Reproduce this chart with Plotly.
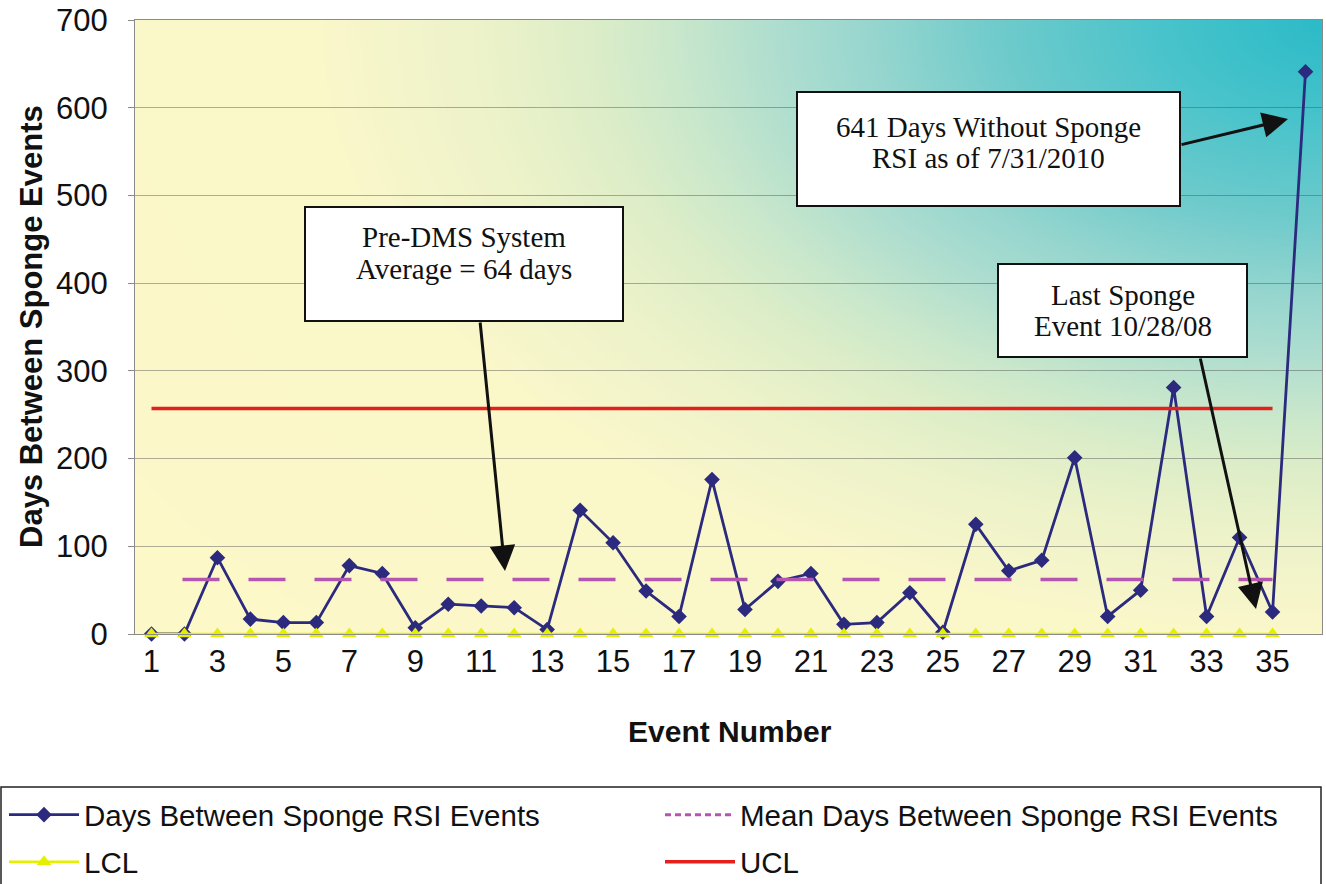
import base64
import struct
import zlib

import numpy as np
import plotly.graph_objects as go

# ---------------- data ----------------
events = [1, 2, 3, 4, 5, 6, 7, 8, 9, 10, 11, 12, 13, 14, 15, 16, 17, 18,
          19, 20, 21, 22, 23, 24, 25, 26, 27, 28, 29, 30, 31, 32, 33, 34, 35, 36]
days_between = [0, 0, 87, 17, 13, 13, 78, 69, 7, 34, 32, 30, 5, 141, 104, 49, 20, 176,
                28, 60, 69, 11, 13, 47, 2, 125, 72, 84, 201, 20, 50, 281, 20, 110, 25, 641]
limit_events = [1, 2, 3, 4, 5, 6, 7, 8, 9, 10, 11, 12, 13, 14, 15, 16, 17, 18,
                19, 20, 21, 22, 23, 24, 25, 26, 27, 28, 29, 30, 31, 32, 33, 34, 35]
mean_value = 62
lcl_value = 0
ucl_value = 257
mean_days = [mean_value for _ in limit_events]
lcl = [lcl_value for _ in limit_events]
ucl = [ucl_value for _ in limit_events]
x_tick_vals = [1, 3, 5, 7, 9, 11, 13, 15, 17, 19, 21, 23, 25, 27, 29, 31, 33, 35]
y_tick_vals = [0, 100, 200, 300, 400, 500, 600, 700]

# ---------------- layout geometry (pixels) ----------------
W, H = 1326, 884
PL, PR, PT, PB = 135, 1322, 20, 634
X_RANGE = [0.5, 36.5]
Y_RANGE = [0, 700]


def px(x):
    return (x - PL) / (PR - PL)


def py(y):
    return (PB - y) / (PB - PT)


def dx(x):
    return X_RANGE[0] + (x - PL) / (PR - PL) * (X_RANGE[1] - X_RANGE[0])


def dy(y):
    return Y_RANGE[0] + (PB - y) / (PB - PT) * (Y_RANGE[1] - Y_RANGE[0])


# ---------------- background gradient image ----------------
def png_uri(rgb):
    h, w, _ = rgb.shape
    raw = b"".join(b"\x00" + rgb[i].tobytes() for i in range(h))

    def chunk(tag, data):
        c = struct.pack(">I", len(data)) + tag + data
        return c + struct.pack(">I", zlib.crc32(tag + data) & 0xFFFFFFFF)

    png = (b"\x89PNG\r\n\x1a\n"
           + chunk(b"IHDR", struct.pack(">IIBBBBB", w, h, 8, 2, 0, 0, 0))
           + chunk(b"IDAT", zlib.compress(raw, 9))
           + chunk(b"IEND", b""))
    return "data:image/png;base64," + base64.b64encode(png).decode()


step = 3
gw, gh = (PR - PL) // step, (PB - PT) // step
gx = np.arange(gw) * step
gy = np.arange(gh) * step
XX, YY = np.meshgrid(gx, gy)
dist = np.sqrt(((PR - PL) - XX) ** 2 + (1.65 * YY) ** 2)
stops_d = [0, 150, 324, 450, 560, 650, 740, 850, 1000, 1400]
stops_c = [(44, 187, 200), (70, 195, 203), (111, 203, 204), (150, 214, 207),
           (178, 223, 207), (202, 232, 204), (222, 238, 200), (238, 243, 202),
           (250, 247, 202), (252, 248, 200)]
img = np.zeros((gh, gw, 3), dtype=np.uint8)
for ch in range(3):
    img[:, :, ch] = np.interp(dist, stops_d, [c[ch] for c in stops_c]).astype(np.uint8)
bg_uri = png_uri(img)

# ---------------- traces ----------------
NAVY = "#2b2a7e"
PURPLE = "#b455b1"
YELLOW = "#e4f000"
RED = "#e3201c"
LEG_FONT = dict(family="Liberation Sans, Arial, sans-serif", size=29.5, color="#111111")
MEAN_DASH = "0px,31px," + ",".join(["37px,29px"] * 18)

fig = go.Figure()
fig.add_trace(go.Scatter(
    x=events, y=days_between, mode="lines+markers", name="Days Between Sponge RSI Events",
    line=dict(color=NAVY, width=2.8), marker=dict(symbol="diamond", size=12, color=NAVY),
    cliponaxis=False, legend="legend"))
fig.add_trace(go.Scatter(
    x=limit_events, y=mean_days, mode="lines", name="Mean Days Between Sponge RSI Events",
    line=dict(color=PURPLE, width=3.5, dash=MEAN_DASH), showlegend=False))
fig.add_trace(go.Scatter(
    x=[None], y=[None], mode="lines", name="Mean Days Between Sponge RSI Events",
    line=dict(color=PURPLE, width=3, dash="6px,4px"), legend="legend2"))
fig.add_trace(go.Scatter(
    x=limit_events, y=lcl, mode="lines+markers", name="LCL",
    line=dict(color=YELLOW, width=2.5), marker=dict(symbol="triangle-up", size=13, color=YELLOW),
    cliponaxis=False, legend="legend3"))
fig.add_trace(go.Scatter(
    x=limit_events, y=ucl, mode="lines", name="UCL",
    line=dict(color=RED, width=3.5), legend="legend4"))

# ---------------- annotations ----------------
SERIF = dict(family="Liberation Serif, Times New Roman, serif", size=29, color="#111111")
boxes = [
    ((305, 207, 623, 321), [(464, 237, "Pre-DMS System"), (464, 269, "Average = 64 days")]),
    ((797, 92, 1180, 206), [(988, 127, "641 Days Without Sponge"),
                            (988, 158, "RSI as of 7/31/2010")]),
    ((998, 264, 1247, 357), [(1123, 295, "Last Sponge"), (1123, 326, "Event 10/28/08")]),
]
arrows = [
    ((480, 321), (505, 571)),
    ((1180, 145), (1288, 119)),
    ((1200, 357), (1256, 609)),
]
shapes = []
annotations = []
for (x0, y0, x1, y1), lines in boxes:
    shapes.append(dict(type="rect", xref="paper", yref="paper",
                       x0=px(x0), x1=px(x1), y0=py(y1), y1=py(y0),
                       line=dict(color="#111111", width=2), fillcolor="white", layer="above"))
    for tx, ty, txt in lines:
        annotations.append(dict(xref="paper", yref="paper", x=px(tx), y=py(ty), text=txt,
                                showarrow=False, font=SERIF, xanchor="center",
                                yanchor="middle", align="center"))
for (tx, ty), (hx, hy) in arrows:
    annotations.append(dict(xref="x", yref="y", axref="x", ayref="y",
                            x=dx(hx), y=dy(hy), ax=dx(tx), ay=dy(ty), text="",
                            showarrow=True, arrowhead=2, arrowsize=1.7, arrowwidth=3,
                            arrowcolor="#111111", standoff=0, startstandoff=0))

# axis titles
annotations.append(dict(xref="paper", yref="paper", x=px(730), y=py(731),
                        text="<b>Event Number</b>", showarrow=False,
                        font=dict(family="Liberation Sans, Arial, sans-serif", size=30,
                                  color="#111111"),
                        xanchor="center", yanchor="middle"))
annotations.append(dict(xref="paper", yref="paper", x=px(31), y=py(327),
                        text="<b>Days Between Sponge Events</b>", showarrow=False,
                        font=dict(family="Liberation Sans, Arial, sans-serif", size=31,
                                  color="#111111"),
                        textangle=-90, xanchor="center", yanchor="middle"))

# legend frame
shapes.append(dict(type="rect", xref="paper", yref="paper",
                   x0=px(1), x1=px(1321), y0=py(900), y1=py(787),
                   line=dict(color="#222222", width=1.5), fillcolor="rgba(0,0,0,0)",
                   layer="below"))

leg_common = dict(orientation="h", bgcolor="rgba(0,0,0,0)", borderwidth=0,
                  font=LEG_FONT, itemwidth=70, xanchor="left", yanchor="middle")

TICK_FONT = dict(family="Liberation Sans, Arial, sans-serif", size=31, color="#111111")

fig.update_layout(
    width=W, height=H,
    margin=dict(l=PL, r=W - PR, t=PT, b=H - PB, autoexpand=False),
    paper_bgcolor="white", plot_bgcolor="rgba(0,0,0,0)",
    font=dict(family="Liberation Sans, Arial, sans-serif", color="#111111"),
    xaxis=dict(range=X_RANGE, tickmode="array", tickvals=x_tick_vals,
               ticktext=[str(v) for v in x_tick_vals], showgrid=False, zeroline=False,
               showline=True, linecolor="#8a8a8a", linewidth=1, mirror=True,
               ticks="", tickfont=TICK_FONT, ticklabeloverflow="allow"),
    yaxis=dict(range=Y_RANGE, tickmode="array", tickvals=y_tick_vals, showgrid=True,
               gridcolor="rgba(80,80,80,0.45)", gridwidth=1, zeroline=False,
               showline=True, linecolor="#8a8a8a", linewidth=1, mirror=True,
               ticks="outside", ticklen=6, tickcolor="#8a8a8a", ticklabelstandoff=14,
               tickfont=TICK_FONT, ticklabeloverflow="allow"),
    images=[dict(source=bg_uri, xref="paper", yref="paper", x=0, y=1, sizex=1, sizey=1,
                 xanchor="left", yanchor="top", sizing="stretch", layer="below")],
    shapes=shapes,
    annotations=annotations,
    showlegend=True,
    legend=dict(x=px(4), y=py(815), **leg_common),
    legend2=dict(x=px(660), y=py(815), **leg_common),
    legend3=dict(x=px(4), y=py(862), **leg_common),
    legend4=dict(x=px(660), y=py(862), **leg_common),
)

fig.write_html(
    "out.html",
    config={"displayModeBar": False},
    post_script="document.body.style.margin='0px';document.body.style.padding='0px';"
                "document.body.style.overflow='hidden';",
)
